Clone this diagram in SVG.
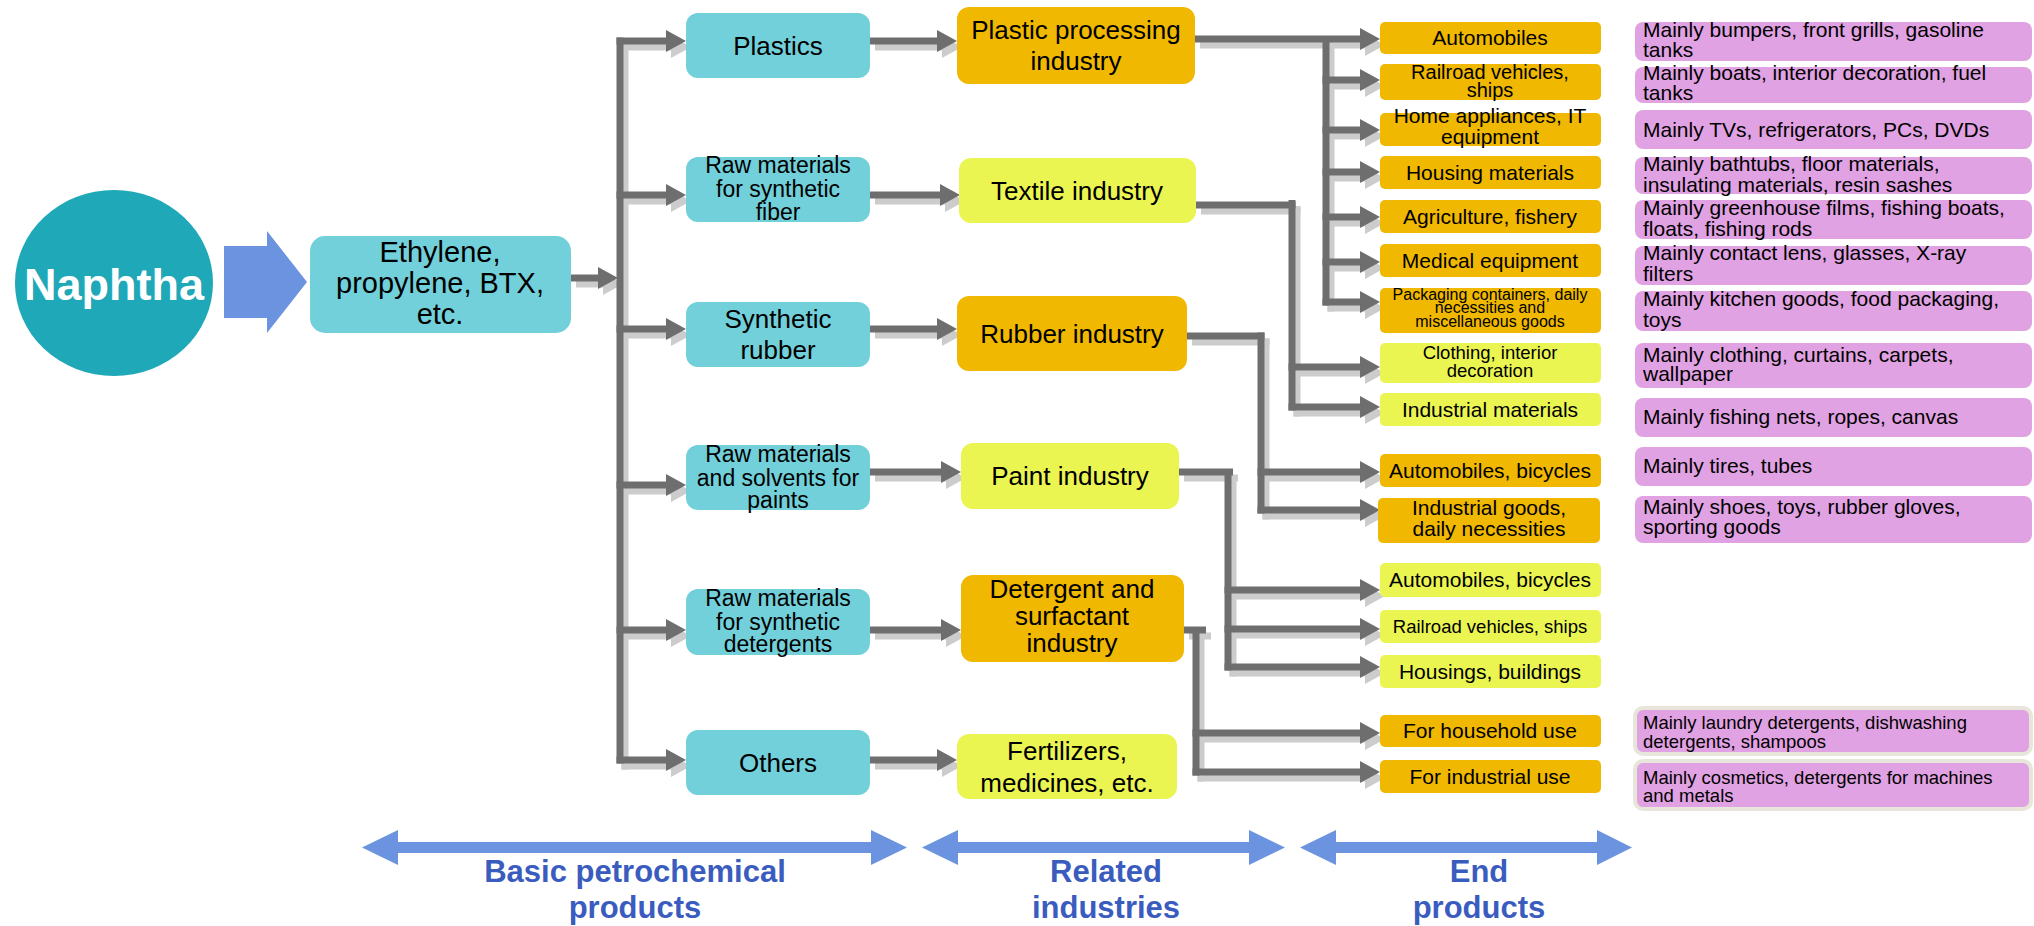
<svg xmlns="http://www.w3.org/2000/svg" width="2034" height="926" viewBox="0 0 2034 926">
<defs>
<style>
.cyan{fill:#72d0da}
.orange{fill:#f0b800}
.yellow{fill:#ebf552}
.purple{fill:#e0a2e2}
.pb{fill:#e0a2e2;stroke:#e8e5da;stroke-width:4}
text{font-family:"Liberation Sans",Arial,sans-serif;fill:#000}
.c{text-anchor:middle}
.f26{font-size:26px}
.f23{font-size:23px}
.f21{font-size:21px}
.f20{font-size:20px}
.f18{font-size:18.5px}
.f16{font-size:16px}
.lbl{font-size:31px;font-weight:bold;fill:#3a5cbf;text-anchor:middle}
.sh{stroke:#cccccc;stroke-width:7;fill:none;marker-end:url(#ahS)}
.ln{stroke:#6e6e6e;stroke-width:7;fill:none;marker-end:url(#ah)}
.shk{stroke:#cccccc;stroke-width:7;fill:none}
.tk{stroke:#6e6e6e;stroke-width:7;fill:none}
.blue{fill:#6b93e0}
</style>
<marker id="ah" markerUnits="userSpaceOnUse" markerWidth="20" markerHeight="22" viewBox="0 0 20 22" refX="0" refY="11" orient="auto"><path d="M0,0 L20,11 L0,22 Z" fill="#6e6e6e"/></marker>
<marker id="ahS" markerUnits="userSpaceOnUse" markerWidth="20" markerHeight="22" viewBox="0 0 20 22" refX="0" refY="11" orient="auto"><path d="M0,0 L20,11 L0,22 Z" fill="#cccccc"/></marker>
</defs>
<rect width="2034" height="926" fill="#ffffff"/>

<g id="connectors">
<g id="shadows" transform="translate(5,6)">
<path class="sh" d="M571,278 H598"/>
<path class="shk" d="M620,37.5 V763.5"/>
<path class="sh" d="M616.5,41 H666"/>
<path class="sh" d="M616.5,195 H666"/>
<path class="sh" d="M616.5,329 H666"/>
<path class="sh" d="M616.5,485 H666"/>
<path class="sh" d="M616.5,630 H666"/>
<path class="sh" d="M616.5,760 H666"/>
<path class="sh" d="M870,41 H937"/>
<path class="sh" d="M870,195 H940"/>
<path class="sh" d="M870,329 H937"/>
<path class="sh" d="M870,472 H941"/>
<path class="sh" d="M870,630 H941"/>
<path class="sh" d="M870,760 H937"/>
<path class="sh" d="M1195,39 H1360"/>
<path class="shk" d="M1326,39 V305.5"/>
<path class="sh" d="M1322.5,80 H1360"/>
<path class="sh" d="M1322.5,130 H1360"/>
<path class="sh" d="M1322.5,172 H1360"/>
<path class="sh" d="M1322.5,217 H1360"/>
<path class="sh" d="M1322.5,262 H1360"/>
<path class="sh" d="M1322.5,302 H1360"/>
<path class="shk" d="M1196,205 H1295.5"/>
<path class="shk" d="M1292,200 V410.5"/>
<path class="sh" d="M1288.5,367 H1360"/>
<path class="sh" d="M1288.5,407 H1360"/>
<path class="shk" d="M1187,336 H1264.5"/>
<path class="shk" d="M1261,332.5 V513.5"/>
<path class="sh" d="M1257.5,472 H1360"/>
<path class="sh" d="M1257.5,510 H1360"/>
<path class="shk" d="M1179,472 H1233"/>
<path class="shk" d="M1228,470 V670.5"/>
<path class="sh" d="M1224.5,590 H1360"/>
<path class="sh" d="M1224.5,629 H1360"/>
<path class="sh" d="M1224.5,667 H1360"/>
<path class="shk" d="M1184,630 H1206"/>
<path class="shk" d="M1196,628 V775.5"/>
<path class="sh" d="M1192.5,733 H1360"/>
<path class="sh" d="M1192.5,772 H1360"/>
</g>
<g id="lines">
<path class="ln" d="M571,278 H598"/>
<path class="tk" d="M620,37.5 V763.5"/>
<path class="ln" d="M616.5,41 H666"/>
<path class="ln" d="M616.5,195 H666"/>
<path class="ln" d="M616.5,329 H666"/>
<path class="ln" d="M616.5,485 H666"/>
<path class="ln" d="M616.5,630 H666"/>
<path class="ln" d="M616.5,760 H666"/>
<path class="ln" d="M870,41 H937"/>
<path class="ln" d="M870,195 H940"/>
<path class="ln" d="M870,329 H937"/>
<path class="ln" d="M870,472 H941"/>
<path class="ln" d="M870,630 H941"/>
<path class="ln" d="M870,760 H937"/>
<path class="ln" d="M1195,39 H1360"/>
<path class="tk" d="M1326,39 V305.5"/>
<path class="ln" d="M1322.5,80 H1360"/>
<path class="ln" d="M1322.5,130 H1360"/>
<path class="ln" d="M1322.5,172 H1360"/>
<path class="ln" d="M1322.5,217 H1360"/>
<path class="ln" d="M1322.5,262 H1360"/>
<path class="ln" d="M1322.5,302 H1360"/>
<path class="tk" d="M1196,205 H1295.5"/>
<path class="tk" d="M1292,200 V410.5"/>
<path class="ln" d="M1288.5,367 H1360"/>
<path class="ln" d="M1288.5,407 H1360"/>
<path class="tk" d="M1187,336 H1264.5"/>
<path class="tk" d="M1261,332.5 V513.5"/>
<path class="ln" d="M1257.5,472 H1360"/>
<path class="ln" d="M1257.5,510 H1360"/>
<path class="tk" d="M1179,472 H1233"/>
<path class="tk" d="M1228,470 V670.5"/>
<path class="ln" d="M1224.5,590 H1360"/>
<path class="ln" d="M1224.5,629 H1360"/>
<path class="ln" d="M1224.5,667 H1360"/>
<path class="tk" d="M1184,630 H1206"/>
<path class="tk" d="M1196,628 V775.5"/>
<path class="ln" d="M1192.5,733 H1360"/>
<path class="ln" d="M1192.5,772 H1360"/>
</g>
</g>

<g id="naphtha">
<ellipse cx="114" cy="283" rx="99" ry="93" fill="#1fa8b8"/>
<text x="114" y="300" class="c" style="font-size:45px;font-weight:bold;fill:#ffffff">Naphtha</text>
</g>
<g id="big-arrow">
<path class="blue" d="M224,246 H267 V231 L307,282 L267,333 V318 H224 Z"/>
</g>
<g id="ethylene">
<rect x="310" y="236" width="261" height="97" rx="15" class="cyan"/>
<text class="c" x="440" y="262" style="font-size:29px">Ethylene,</text>
<text class="c" x="440" y="293" style="font-size:29px">propylene, BTX,</text>
<text class="c" x="440" y="324" style="font-size:29px">etc.</text>
</g>

<g id="plastics"><rect x="686" y="13" width="184" height="65" rx="12" class="cyan"/><text class="c f26" x="778" y="55">Plastics</text></g>
<g id="raw-fiber"><rect x="686" y="157" width="184" height="65" rx="12" class="cyan"/><text class="c f23" x="778" y="173">Raw materials</text><text class="c f23" x="778" y="197">for synthetic</text><text class="c f23" x="778" y="220">fiber</text></g>
<g id="synthetic-rubber"><rect x="686" y="302" width="184" height="65" rx="12" class="cyan"/><text class="c f26" x="778" y="328">Synthetic</text><text class="c f26" x="778" y="359">rubber</text></g>
<g id="raw-paints"><rect x="686" y="445" width="184" height="65" rx="12" class="cyan"/><text class="c f23" x="778" y="462">Raw materials</text><text class="c f23" x="778" y="486">and solvents for</text><text class="c f23" x="778" y="508">paints</text></g>
<g id="raw-detergents"><rect x="686" y="589" width="184" height="66" rx="12" class="cyan"/><text class="c f23" x="778" y="606">Raw materials</text><text class="c f23" x="778" y="630">for synthetic</text><text class="c f23" x="778" y="652">detergents</text></g>
<g id="others"><rect x="686" y="730" width="184" height="65" rx="12" class="cyan"/><text class="c f26" x="778" y="772">Others</text></g>

<g id="plastic-processing"><rect x="957" y="7" width="238" height="77" rx="12" class="orange"/><text class="c f26" x="1076" y="39">Plastic processing</text><text class="c f26" x="1076" y="70">industry</text></g>
<g id="textile"><rect x="959" y="158" width="237" height="65" rx="12" class="yellow"/><text class="c f26" x="1077" y="200">Textile industry</text></g>
<g id="rubber-industry"><rect x="957" y="296" width="230" height="75" rx="12" class="orange"/><text class="c f26" x="1072" y="343">Rubber industry</text></g>
<g id="paint-industry"><rect x="961" y="443" width="218" height="66" rx="12" class="yellow"/><text class="c f26" x="1070" y="485">Paint industry</text></g>
<g id="detergent-industry"><rect x="961" y="575" width="223" height="87" rx="12" class="orange"/><text class="c f26" x="1072" y="598">Detergent and</text><text class="c f26" x="1072" y="625">surfactant</text><text class="c f26" x="1072" y="652">industry</text></g>
<g id="fertilizers"><rect x="957" y="734" width="220" height="65" rx="12" class="yellow"/><text class="c f26" x="1067" y="760">Fertilizers,</text><text class="c f26" x="1067" y="792">medicines, etc.</text></g>

<g id="e-automobiles"><rect x="1380" y="22" width="221" height="32" rx="5" class="orange"/><text class="c f21" x="1490" y="45">Automobiles</text></g>
<g id="e-railroad"><rect x="1380" y="64" width="221" height="36" rx="5" class="orange"/><text class="c f20" x="1490" y="79">Railroad vehicles,</text><text class="c f20" x="1490" y="97">ships</text></g>
<g id="e-home"><rect x="1380" y="113" width="221" height="33" rx="5" class="orange"/><text class="c f21" x="1490" y="123">Home appliances, IT</text><text class="c f21" x="1490" y="144">equipment</text></g>
<g id="e-housing"><rect x="1380" y="156" width="221" height="33" rx="5" class="orange"/><text class="c f21" x="1490" y="180">Housing materials</text></g>
<g id="e-agriculture"><rect x="1380" y="200" width="221" height="33" rx="5" class="orange"/><text class="c f21" x="1490" y="224">Agriculture, fishery</text></g>
<g id="e-medical"><rect x="1380" y="244" width="221" height="33" rx="5" class="orange"/><text class="c f21" x="1490" y="268">Medical equipment</text></g>
<g id="e-packaging"><rect x="1380" y="288" width="221" height="45" rx="5" class="orange"/><text class="c f16" x="1490" y="300">Packaging containers, daily</text><text class="c f16" x="1490" y="313">necessities and</text><text class="c f16" x="1490" y="327">miscellaneous goods</text></g>
<g id="e-clothing"><rect x="1380" y="343" width="221" height="40" rx="5" class="yellow"/><text class="c f18" x="1490" y="359">Clothing, interior</text><text class="c f18" x="1490" y="377">decoration</text></g>
<g id="e-industrial-materials"><rect x="1380" y="393" width="221" height="33" rx="5" class="yellow"/><text class="c f21" x="1490" y="417">Industrial materials</text></g>
<g id="e-auto-bicycles-1"><rect x="1380" y="454" width="221" height="33" rx="5" class="orange"/><text class="c f21" x="1490" y="478">Automobiles, bicycles</text></g>
<g id="e-industrial-goods"><rect x="1378" y="498" width="222" height="45" rx="5" class="orange"/><text class="c f21" x="1489" y="515">Industrial goods,</text><text class="c f21" x="1489" y="536">daily necessities</text></g>
<g id="e-auto-bicycles-2"><rect x="1380" y="563" width="221" height="34" rx="5" class="yellow"/><text class="c f21" x="1490" y="587">Automobiles, bicycles</text></g>
<g id="e-railroad-2"><rect x="1380" y="610" width="221" height="33" rx="5" class="yellow"/><text class="c f18" x="1490" y="633">Railroad vehicles, ships</text></g>
<g id="e-housings"><rect x="1380" y="655" width="221" height="33" rx="5" class="yellow"/><text class="c f21" x="1490" y="679">Housings, buildings</text></g>
<g id="e-household"><rect x="1380" y="715" width="221" height="32" rx="5" class="orange"/><text class="c f21" x="1490" y="738">For household use</text></g>
<g id="e-industrial-use"><rect x="1380" y="760" width="221" height="33" rx="5" class="orange"/><text class="c f21" x="1490" y="784">For industrial use</text></g>

<g id="p1"><rect x="1635" y="22" width="397" height="39" rx="8" class="purple"/><text class="f21" x="1643" y="37">Mainly bumpers, front grills, gasoline</text><text class="f21" x="1643" y="57">tanks</text></g>
<g id="p2"><rect x="1635" y="67" width="397" height="36" rx="8" class="purple"/><text class="f21" x="1643" y="80">Mainly boats, interior decoration, fuel</text><text class="f21" x="1643" y="100">tanks</text></g>
<g id="p3"><rect x="1635" y="110" width="397" height="39" rx="8" class="purple"/><text class="f21" x="1643" y="137">Mainly TVs, refrigerators, PCs, DVDs</text></g>
<g id="p4"><rect x="1635" y="157" width="397" height="37" rx="8" class="purple"/><text class="f21" x="1643" y="171">Mainly bathtubs, floor materials,</text><text class="f21" x="1643" y="192">insulating materials, resin sashes</text></g>
<g id="p5"><rect x="1635" y="200" width="397" height="39" rx="8" class="purple"/><text class="f21" x="1643" y="215">Mainly greenhouse films, fishing boats,</text><text class="f21" x="1643" y="236">floats, fishing rods</text></g>
<g id="p6"><rect x="1635" y="246" width="397" height="39" rx="8" class="purple"/><text class="f21" x="1643" y="260">Mainly contact lens, glasses, X-ray</text><text class="f21" x="1643" y="281">filters</text></g>
<g id="p7"><rect x="1635" y="291" width="397" height="40" rx="8" class="purple"/><text class="f21" x="1643" y="306">Mainly kitchen goods, food packaging,</text><text class="f21" x="1643" y="327">toys</text></g>
<g id="p8"><rect x="1635" y="343" width="397" height="45" rx="8" class="purple"/><text class="f21" x="1643" y="362">Mainly clothing, curtains, carpets,</text><text class="f21" x="1643" y="381">wallpaper</text></g>
<g id="p9"><rect x="1635" y="398" width="397" height="39" rx="8" class="purple"/><text class="f21" x="1643" y="424">Mainly fishing nets, ropes, canvas</text></g>
<g id="p10"><rect x="1635" y="447" width="397" height="39" rx="8" class="purple"/><text class="f21" x="1643" y="473">Mainly tires, tubes</text></g>
<g id="p11"><rect x="1635" y="496" width="397" height="47" rx="8" class="purple"/><text class="f21" x="1643" y="514">Mainly shoes, toys, rubber gloves,</text><text class="f21" x="1643" y="534">sporting goods</text></g>
<g id="p12"><rect x="1635" y="708" width="396" height="46" rx="8" class="pb"/><text class="f18" x="1643" y="729">Mainly laundry detergents, dishwashing</text><text class="f18" x="1643" y="748">detergents, shampoos</text></g>
<g id="p13"><rect x="1635" y="761" width="396" height="48" rx="8" class="pb"/><text class="f18" x="1643" y="784">Mainly cosmetics, detergents for machines</text><text class="f18" x="1643" y="802">and metals</text></g>

<g id="legend">
<path class="blue" d="M362,847.5 L398,830 V842 H871 V830 L907,847.5 L871,865 V853 H398 V865 Z"/>
<path class="blue" d="M922,847.5 L958,830 V842 H1249 V830 L1285,847.5 L1249,865 V853 H958 V865 Z"/>
<path class="blue" d="M1300,847.5 L1336,830 V842 H1597 V830 L1632,847.5 L1597,865 V853 H1336 V865 Z"/>
<text class="lbl" x="635" y="882">Basic petrochemical</text>
<text class="lbl" x="635" y="918">products</text>
<text class="lbl" x="1106" y="882">Related</text>
<text class="lbl" x="1106" y="918">industries</text>
<text class="lbl" x="1479" y="882">End</text>
<text class="lbl" x="1479" y="918">products</text>
</g>
</svg>
